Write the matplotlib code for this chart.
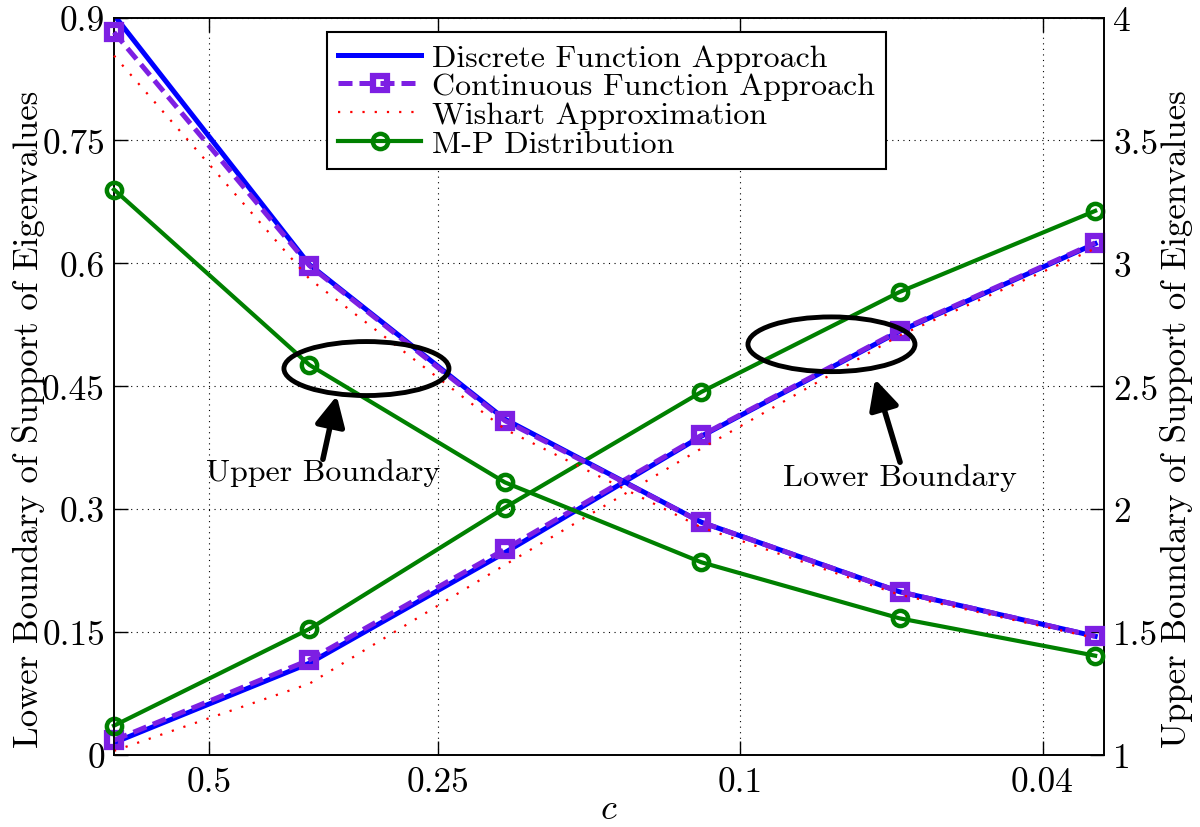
import matplotlib
matplotlib.use('Agg')
import matplotlib.pyplot as plt
from matplotlib.patches import Ellipse
from matplotlib.ticker import FixedLocator, FixedFormatter, NullLocator

# ---------------- data ----------------
c = [0.667, 0.369, 0.204, 0.1125, 0.0617, 0.0341]

disc_lower = [0.015, 0.112, 0.247, 0.389, 0.517, 0.624]
disc_upper = [4.01, 2.995, 2.366, 1.947, 1.664, 1.483]
cont_lower = [0.018, 0.116, 0.251, 0.390, 0.518, 0.625]
cont_upper = [3.94, 2.991, 2.360, 1.947, 1.664, 1.483]
wish_lower = [0.005, 0.087, 0.232, 0.374, 0.512, 0.618]
wish_upper = [3.845, 2.937, 2.325, 1.926, 1.652, 1.476]
mp_lower = [0.0358, 0.1538, 0.302, 0.443, 0.565, 0.664]
mp_upper = [3.30, 2.587, 2.109, 1.784, 1.556, 1.404]

series_labels = ['Discrete Function Approach', 'Continuous Function Approach',
                 'Wishart Approximation', 'M-P Distribution']

x_ticks = [0.5, 0.25, 0.1, 0.04]
x_ticklabels = ['0.5', '0.25', '0.1', '0.04']
left_ticks = [0, 0.15, 0.3, 0.45, 0.6, 0.75, 0.9]
left_ticklabels = ['0', '0.15', '0.3', '0.45', '0.6', '0.75', '0.9']
right_ticks = [1, 1.5, 2, 2.5, 3, 3.5, 4]
right_ticklabels = ['1', '1.5', '2', '2.5', '3', '3.5', '4']

# ---------------- style ----------------
plt.rcParams['font.family'] = ['cmr10', 'Liberation Serif', 'DejaVu Serif']
plt.rcParams['mathtext.fontset'] = 'cm'
plt.rcParams['axes.formatter.use_mathtext'] = True

blue = '#0000ff'
purple = '#7d1fe3'
red = '#ff0000'
green = '#008000'

fig = plt.figure(figsize=(12, 8.28), dpi=100)
ax = fig.add_axes([114/1200, 1 - 756/828, 990/1200, 737.5/828])
ax.set_xscale('log')
ax2 = ax.twinx()

ax.set_xlim(0.667, 0.0332)
ax.set_ylim(0, 0.9)
ax2.set_ylim(1, 4)


def draw(a, d, co, w, m):
    a.plot(c, d, color=blue, lw=3.6, zorder=2)
    a.plot(c, co, color=purple, lw=3.6, ls=(0, (2.8, 1.4)), marker='s', ms=10,
           mfc='none', mew=4.5, zorder=3, clip_on=False)
    a.plot(c, w, color=red, lw=1.6, ls=(0, (1, 4.5)), zorder=4, clip_on=False)
    a.plot(c, m, color=green, lw=3, marker='o', ms=11, mfc='none', mew=3.2,
           zorder=5, clip_on=False)


draw(ax, disc_lower, cont_lower, wish_lower, mp_lower)
draw(ax2, disc_upper, cont_upper, wish_upper, mp_upper)

# ticks
ax.xaxis.set_major_locator(FixedLocator(x_ticks))
ax.xaxis.set_major_formatter(FixedFormatter(x_ticklabels))
ax.xaxis.set_minor_locator(NullLocator())
ax.yaxis.set_major_locator(FixedLocator(left_ticks))
ax.yaxis.set_major_formatter(FixedFormatter(left_ticklabels))
ax2.yaxis.set_major_locator(FixedLocator(right_ticks))
ax2.yaxis.set_major_formatter(FixedFormatter(right_ticklabels))

ax.tick_params(axis='x', which='major', direction='in', length=10, width=1,
               top=True, labelsize=25.5, pad=8)
ax.tick_params(axis='y', which='major', direction='in', length=10, width=1,
               right=False, labelsize=25.5, pad=6.5)
ax2.tick_params(axis='y', direction='in', length=10, width=1, labelsize=25.5, pad=6.5)

ax.grid(True, which='major', ls=(0, (1, 4)), color='k', lw=0.8)
for a in (ax, ax2):
    for s in a.spines.values():
        s.set_linewidth(1.2)

ax.set_xlabel('$c$', fontsize=26, labelpad=-3)
ax.set_ylabel('Lower Boundary of Support of Eigenvalues', fontsize=25)
ax2.set_ylabel('Upper Boundary of Support of Eigenvalues', fontsize=25)
ax.yaxis.set_label_coords(-0.0697, 0.457)
ax2.yaxis.set_label_coords(1.0566, 0.457)

# legend
handles = ax2.get_lines()
leg = ax2.legend(handles, series_labels, loc='upper left',
                 bbox_to_anchor=(0.215, 0.980), borderaxespad=0, fontsize=23,
                 frameon=True, fancybox=False, edgecolor='k', framealpha=1,
                 handlelength=2.6, numpoints=1, borderpad=0.35,
                 labelspacing=0.01, handletextpad=0.35)
leg.get_frame().set_linewidth(1.5)
leg.set_zorder(10)

# annotations
ax2.add_patch(Ellipse((0.255, 0.524), 0.1667, 0.0732, transform=ax2.transAxes,
                      fill=False, ec='k', lw=3.5, zorder=6))
ax2.add_patch(Ellipse((0.7247, 0.5569), 0.1687, 0.0742, transform=ax2.transAxes,
                      fill=False, ec='k', lw=3.5, zorder=6))
arrow_props = dict(arrowstyle='-|>,head_length=0.9,head_width=0.45', lw=4,
                   color='k', shrinkA=0, shrinkB=0, mutation_scale=20)
ax2.annotate('', xy=(0.225, 0.487), xytext=(0.211, 0.401),
             xycoords='axes fraction', arrowprops=arrow_props, zorder=6)
ax2.annotate('', xy=(0.7687, 0.5098), xytext=(0.794, 0.397),
             xycoords='axes fraction', arrowprops=arrow_props, zorder=6)
ax2.text(0.2116, 0.384, 'Upper Boundary', transform=ax2.transAxes,
         ha='center', va='center', fontsize=23, zorder=6)
ax2.text(0.7934, 0.377, 'Lower Boundary', transform=ax2.transAxes,
         ha='center', va='center', fontsize=23, zorder=6)

fig.savefig('out.png', dpi=100)
